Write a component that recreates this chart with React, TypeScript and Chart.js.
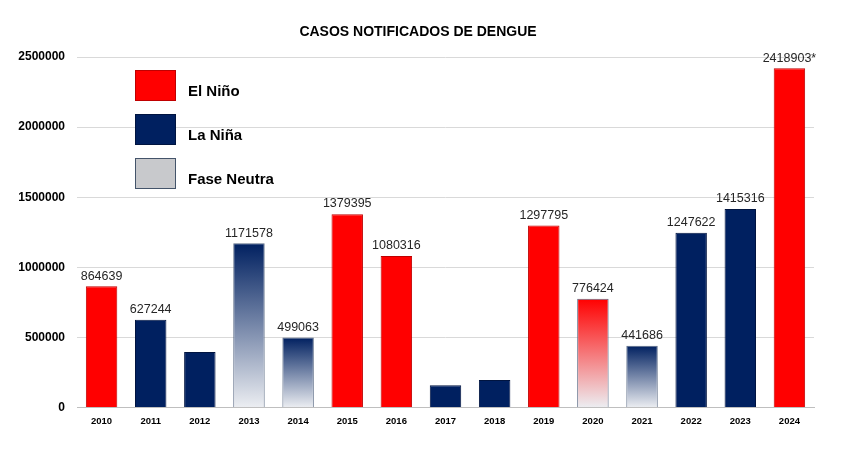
import { useEffect, useRef } from "react";
import { Chart, registerables } from "chart.js";

Chart.register(...registerables);

const years = ["2010", "2011", "2012", "2013", "2014", "2015", "2016", "2017", "2018", "2019", "2020", "2021", "2022", "2023", "2024"];
const cases = [864639, 627244, 396000, 1171578, 499063, 1379395, 1080316, 160000, 196000, 1297795, 776424, 441686, 1247622, 1415316, 2418903];
// texts shown above the bars ("" = no label in the original)
const caseLabels = ["864639", "627244", "", "1171578", "499063", "1379395", "1080316", "", "", "1297795", "776424", "441686", "1247622", "1415316", "2418903*"];
// climate phase of each year; "-neutra" marks a fade towards the neutral phase
const phases = ["nino", "nina", "nina", "nina-neutra", "nina-neutra", "nino", "nino", "nina", "nina", "nino", "nino-neutra", "nina-neutra", "nina", "nina", "nino"];
const yTicks = [0, 500000, 1000000, 1500000, 2000000, 2500000];
const legendItems = ["El Niño", "La Niña", "Fase Neutra"];

const RED = "#ff0000";
const NAVY = "#002060";
const NEUTRAL = "#c8c9cc";
const FADE = "#eceef2";
const FONT = "'Liberation Sans', Arial, sans-serif";

const baseColor = (p: string) => (p.startsWith("nino") ? RED : NAVY);

const overlay = {
  id: "overlay",
  afterDatasetsDraw(chart: Chart) {
    const ctx = chart.ctx;
    ctx.save();
    // value labels
    const meta = chart.getDatasetMeta(0);
    ctx.font = `12.5px ${FONT}`;
    ctx.fillStyle = "#262626";
    ctx.textAlign = "center";
    ctx.textBaseline = "bottom";
    meta.data.forEach((bar: any, i: number) => {
      if (caseLabels[i]) ctx.fillText(caseLabels[i], bar.x, bar.y - 4);
    });

    // title
    ctx.font = `bold 14px ${FONT}`;
    ctx.fillStyle = "#000000";
    ctx.textBaseline = "middle";
    ctx.fillText("CASOS NOTIFICADOS DE DENGUE", 418, 32);

    // legend
    const fills = [RED, NAVY, NEUTRAL];
    const borders = ["#c00000", "#001440", "#44546a"];
    ctx.textAlign = "left";
    ctx.textBaseline = "alphabetic";
    ctx.font = `bold 15px ${FONT}`;
    legendItems.forEach((label, i) => {
      const top = 70 + i * 44;
      ctx.fillStyle = fills[i];
      ctx.fillRect(135, top, 41, 31);
      ctx.strokeStyle = borders[i];
      ctx.lineWidth = 1;
      ctx.strokeRect(135.5, top + 0.5, 40, 30);
      ctx.fillStyle = "#000000";
      ctx.fillText(label, 188, top + 26);
    });
    ctx.restore();
  },
};

function DengueChart() {
  const canvasRef = useRef<HTMLCanvasElement>(null);

  useEffect(() => {
    if (!canvasRef.current) return;

    const chart = new Chart(canvasRef.current, {
      type: "bar",
      data: {
        labels: years,
        datasets: [
          {
            data: cases,
            backgroundColor: (c: any) => {
              const p = phases[c.dataIndex];
              const base = baseColor(p);
              if (!p.endsWith("neutra")) return base;
              const chartObj = c.chart;
              const y = chartObj.scales?.y;
              if (!chartObj.chartArea || !y) return base;
              const top = y.getPixelForValue(cases[c.dataIndex]);
              const bottom = y.getPixelForValue(0);
              const g = chartObj.ctx.createLinearGradient(0, top, 0, bottom);
              g.addColorStop(0, base);
              g.addColorStop(1, FADE);
              return g;
            },
            borderColor: phases.map((p) =>
              p.endsWith("neutra") ? "#5a6a85" : p === "nino" ? "#c00000" : "#001440"
            ),
            borderWidth: 1,
            barPercentage: 0.64,
            categoryPercentage: 1,
          },
        ],
      },
      options: {
        responsive: false,
        animation: false,
        layout: { padding: { top: 57, right: 44, bottom: 41, left: 0 } },
        plugins: {
          legend: { display: false },
          tooltip: { enabled: false },
          title: { display: false },
        },
        scales: {
          x: {
            grid: { display: false, drawTicks: false },
            border: { color: "#bfbfbf" },
            ticks: {
              color: "#000000",
              padding: 8,
              font: { family: FONT, size: 9.5, weight: "bold" },
            },
          },
          y: {
            min: 0,
            max: 2500000,
            afterFit: (scale: any) => {
              scale.width = 77;
            },
            afterBuildTicks: (scale: any) => {
              scale.ticks = yTicks.map((v) => ({ value: v }));
            },
            grid: { color: "#d9d9d9", drawTicks: false },
            border: { display: false },
            ticks: {
              color: "#000000",
              padding: 12,
              font: { family: FONT, size: 12, weight: "bold" },
              callback: (v: any) => String(v),
            },
          },
        },
      },
      plugins: [overlay],
    });

    return () => chart.destroy();
  }, []);

  return <canvas ref={canvasRef} width={858} height={476} />;
}

export default function App() {
  return (
    <div style={{ position: "fixed", left: 0, top: 0, width: 858, height: 476, background: "#ffffff" }}>
      <DengueChart />
    </div>
  );
}
